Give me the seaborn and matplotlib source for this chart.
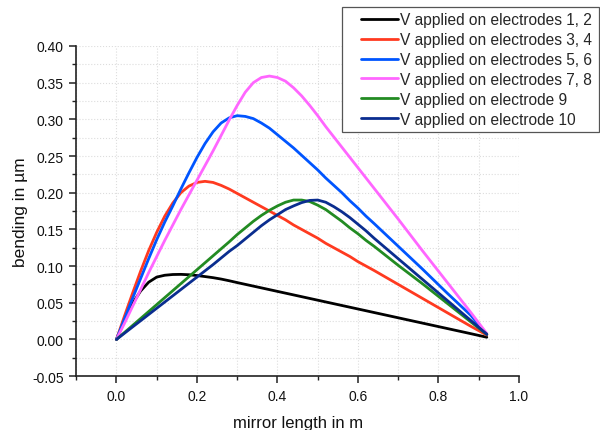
import numpy as np
import pandas as pd
import matplotlib
matplotlib.use("Agg")
import matplotlib.pyplot as plt
import seaborn as sns
from matplotlib.ticker import MultipleLocator, FormatStrFormatter
from matplotlib.patches import Rectangle

x = [0, 0.02, 0.04, 0.06, 0.08, 0.10, 0.12, 0.14, 0.16, 0.18, 0.20, 0.22, 0.24, 0.26,
     0.28, 0.30, 0.32, 0.34, 0.36, 0.38, 0.40, 0.42, 0.44, 0.46, 0.48, 0.50, 0.52,
     0.54, 0.56, 0.58, 0.60, 0.62, 0.64, 0.70, 0.76, 0.82, 0.88, 0.92]

e12 = [0, 0.026, 0.049, 0.066, 0.078, 0.085, 0.0875, 0.0885, 0.0887, 0.0882, 0.0871, 0.0857,
       0.0842, 0.0823, 0.0800, 0.0775, 0.0751, 0.0727, 0.0703, 0.0679, 0.0655, 0.0631, 0.0607,
       0.0583, 0.0559, 0.0535, 0.0511, 0.0487, 0.0463, 0.0439, 0.0415, 0.0391, 0.0367, 0.0295,
       0.0223, 0.0151, 0.0079, 0.003]
e34 = [0, 0.032, 0.063, 0.093, 0.121, 0.146, 0.168, 0.186, 0.200, 0.209, 0.214, 0.2155, 0.214,
       0.210, 0.205, 0.199, 0.193, 0.187, 0.181, 0.175, 0.169, 0.163, 0.156, 0.150, 0.144,
       0.138, 0.131, 0.125, 0.119, 0.113, 0.106, 0.100, 0.094, 0.075, 0.056, 0.037, 0.018, 0.006]
e56 = [0, 0.028, 0.056, 0.083, 0.110, 0.136, 0.160, 0.182, 0.205, 0.227, 0.248, 0.267, 0.283,
       0.295, 0.302, 0.305, 0.304, 0.301, 0.295, 0.288, 0.279, 0.270, 0.261, 0.251, 0.241,
       0.231, 0.220, 0.210, 0.200, 0.189, 0.179, 0.168, 0.158, 0.127, 0.096, 0.064, 0.033, 0.007]
e78 = [0, 0.022, 0.045, 0.068, 0.091, 0.113, 0.135, 0.156, 0.177, 0.197, 0.217, 0.237, 0.257,
       0.278, 0.299, 0.319, 0.337, 0.350, 0.357, 0.359, 0.357, 0.352, 0.343, 0.332, 0.319,
       0.305, 0.290, 0.276, 0.262, 0.248, 0.234, 0.220, 0.206, 0.164, 0.121, 0.079, 0.037, 0.008]
e9 = [0, 0.0095, 0.019, 0.0285, 0.038, 0.0475, 0.057, 0.0665, 0.076, 0.0855, 0.095, 0.1045,
      0.114, 0.1235, 0.133, 0.143, 0.152, 0.161, 0.169, 0.176, 0.182, 0.187, 0.190, 0.190,
      0.188, 0.183, 0.177, 0.169, 0.161, 0.152, 0.144, 0.135, 0.127, 0.101, 0.076, 0.050,
      0.024, 0.007]
e10 = [0, 0.0085, 0.017, 0.0255, 0.034, 0.0425, 0.051, 0.0595, 0.068, 0.0765, 0.085, 0.0935,
       0.102, 0.111, 0.120, 0.128, 0.137, 0.146, 0.155, 0.163, 0.170, 0.177, 0.182, 0.1865,
       0.1895, 0.190, 0.187, 0.181, 0.174, 0.166, 0.157, 0.148, 0.138, 0.110, 0.082, 0.054,
       0.026, 0.007]

labels = ["V applied on electrodes 1, 2", "V applied on electrodes 3, 4",
          "V applied on electrodes 5, 6", "V applied on electrodes 7, 8",
          "V applied on electrode 9", "V applied on electrode 10"]
colors = ["#000000", "#ff3a20", "#0055ff", "#ff66ff", "#228b22", "#0a2d8f"]
series = [e12, e34, e56, e78, e9, e10]

frames = []
for lab, ys in zip(labels, series):
    frames.append(pd.DataFrame({"x": x, "y": ys, "series": lab}))
df = pd.concat(frames, ignore_index=True)

sns.set_theme(style="white")
plt.rcParams['font.family'] = ['Liberation Sans', 'DejaVu Sans']

W, H = 600, 431
fig = plt.figure(figsize=(6.0, 4.31), dpi=100)
ax = fig.add_axes([0.127, 0.125, 0.738, 0.766])

sns.lineplot(data=df, x="x", y="y", hue="series", palette=dict(zip(labels, colors)),
             hue_order=labels, linewidth=2.0, ax=ax, sort=False, estimator=None, legend=True)
for ln in ax.get_lines():
    ln.set_solid_joinstyle('round')

ax.set_xlim(-0.1, 1.0)
ax.set_ylim(-0.05, 0.40)
ax.xaxis.set_major_locator(MultipleLocator(0.2))
ax.xaxis.set_minor_locator(MultipleLocator(0.1))
ax.yaxis.set_major_locator(MultipleLocator(0.05))
ax.yaxis.set_minor_locator(MultipleLocator(0.025))
ax.yaxis.set_major_formatter(FormatStrFormatter('%.2f'))
ax.xaxis.set_major_formatter(FormatStrFormatter('%.1f'))

ax.grid(True, which='both', color='#dddddd', linestyle=':', linewidth=0.8)
ax.set_axisbelow(True)
for s in ['top', 'right']:
    ax.spines[s].set_visible(False)
for s in ['left', 'bottom']:
    ax.spines[s].set_color('#222222')
    ax.spines[s].set_linewidth(1.2)

ax.tick_params(which='major', direction='out', length=5, width=1.1, color='#222222',
               labelsize=10, labelcolor='#111111', bottom=True, left=True, pad=4)
ax.tick_params(which='minor', direction='out', length=3, width=1.0, color='#222222',
               bottom=True, left=True)

ax.set_xlabel("mirror length in m", fontsize=12, labelpad=9, color='#111111')
ax.set_ylabel("bending in µm", fontsize=12.5, labelpad=3, color='#111111')

# legend: move to figure level with a custom box
handles, labs = ax.get_legend_handles_labels()
ax.get_legend().remove()
box = Rectangle((342 / W, 1 - 133 / H), (599 - 342) / W, (133 - 8) / H,
                transform=fig.transFigure, facecolor='white', edgecolor='#555555',
                linewidth=0.9, zorder=4)
fig.patches.append(box)
leg = fig.legend(handles, labs, loc='upper left', bbox_to_anchor=(361 / W, 1 - 13 / H),
                 fontsize=11.2, frameon=False, handlelength=2.4, handletextpad=0.1,
                 labelspacing=0.32, borderpad=0.0, borderaxespad=0.0)
leg.set_zorder(5)
for h in leg.get_lines():
    h.set_linewidth(2.0)

fig.savefig("out.png", dpi=100)
